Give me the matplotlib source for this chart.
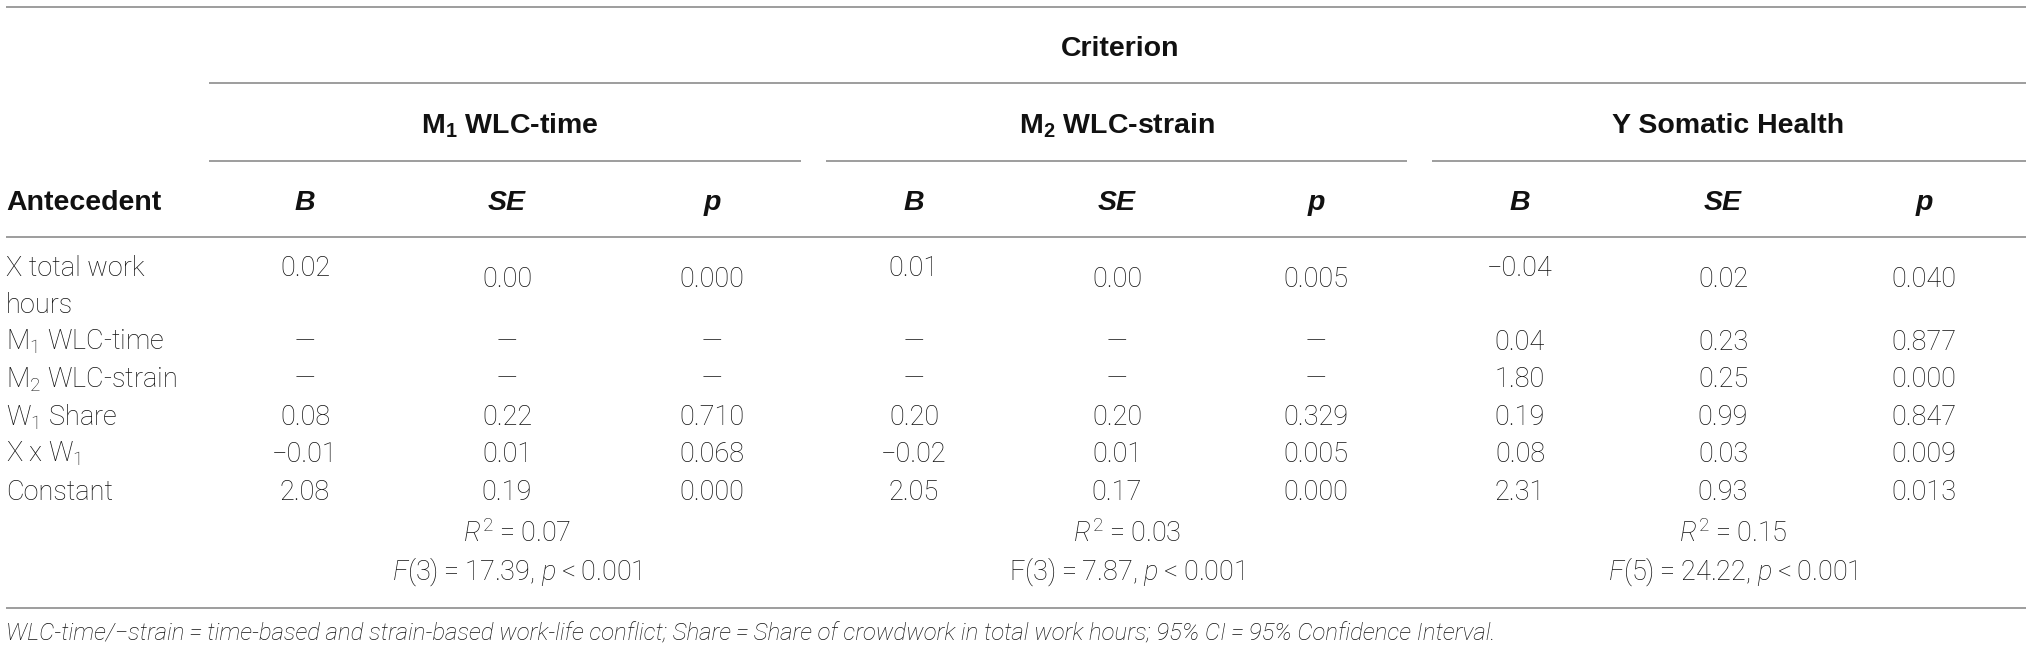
import matplotlib
matplotlib.use("Agg")
import matplotlib.pyplot as plt

plt.rcParams['font.family'] = ['Roboto', 'DejaVu Sans']
plt.rcParams['mathtext.fontset'] = 'custom'
plt.rcParams['mathtext.rm'] = 'Roboto:light'
plt.rcParams['mathtext.it'] = 'Roboto:italic:light'
plt.rcParams['mathtext.bf'] = 'Liberation Sans:bold'

# ---- data ----
criterion_label = "Criterion"
groups = [r"M$_\mathbf{1}$ WLC-time", r"M$_\mathbf{2}$ WLC-strain", "Y Somatic Health"]
stat_labels = ["B", "SE", "p"]
row_labels = [["X total work", "hours"], [r"M$_1$ WLC-time"], [r"M$_2$ WLC-strain"],
              [r"W$_1$ Share"], [r"X x W$_1$"], ["Constant"]]

m1_B = [0.02, None, None, 0.08, -0.01, 2.08]
m1_SE = [0.00, None, None, 0.22, 0.01, 0.19]
m1_p = [0.000, None, None, 0.710, 0.068, 0.000]

m2_B = [0.01, None, None, 0.20, -0.02, 2.05]
m2_SE = [0.00, None, None, 0.20, 0.01, 0.17]
m2_p = [0.005, None, None, 0.329, 0.005, 0.000]

y_B = [-0.04, 0.04, 1.80, 0.19, 0.08, 2.31]
y_SE = [0.02, 0.23, 0.25, 0.99, 0.03, 0.93]
y_p = [0.040, 0.877, 0.000, 0.847, 0.009, 0.013]

r2_values = [0.07, 0.03, 0.15]
f_df = [3, 3, 5]
f_values = [17.39, 7.87, 24.22]
f_italic = [True, False, True]

footnote = ("WLC-time/\u2212strain\u2009=\u2009time-based and strain-based work-life conflict; "
            "Share\u2009=\u2009Share of crowdwork in total work hours; 95% CI\u2009=\u200995% Confidence Interval.")

# ---- layout ----
W, H = 2032, 658
fig = plt.figure(figsize=(W / 100, H / 100), dpi=100)
ax = fig.add_axes([0, 0, 1, 1])
ax.set_xlim(0, W)
ax.set_ylim(H, 0)
ax.axis('off')

line_color = '#8c8c8c'
lw = 1.2
fs = 19.5
hfs = 20.5
txt_color = '#111111'
bold_family = ['Liberation Sans', 'DejaVu Sans']

def hline(y, x0, x1):
    ax.plot([x0, x1], [y, y], color=line_color, lw=lw, solid_capstyle='butt')

L, R = 6, 2026
hline(7, L, R)
hline(83, 209, R)
group_spans = [(209, 801), (826, 1407), (1432, R)]
for x0, x1 in group_spans:
    hline(161, x0, x1)
hline(237, L, R)
hline(608, L, R)

# headers
ax.text(1120, 56, criterion_label, ha='center', va='baseline', fontsize=hfs,
        fontweight='bold', family=bold_family, color=txt_color)
group_centers = [510, 1117, 1728]
for g, cx in zip(groups, group_centers):
    ax.text(cx, 133, g, ha='center', va='baseline', fontsize=hfs, fontweight='bold',
            family=bold_family, color=txt_color)

col_x = [[305, 507, 712], [914, 1117, 1316], [1520, 1723, 1924]]
ax.text(L, 210, "Antecedent", ha='left', va='baseline', fontsize=hfs, fontweight='bold',
        family=bold_family, color=txt_color)
for cols in col_x:
    for lab, cx in zip(stat_labels, cols):
        ax.text(cx, 210, lab, ha='center', va='baseline', fontsize=hfs, fontweight='bold',
                style='italic', family=bold_family, color=txt_color)

# rows (baselines)
row_base = [276, 350, 387, 425, 462, 500]
line_pitch = 37
for labs, yb in zip(row_labels, row_base):
    for k, lab in enumerate(labs):
        ax.text(L, yb + k * line_pitch, lab, ha='left', va='baseline', fontsize=fs,
                fontweight='light', color=txt_color)

def fmt(v, nd):
    if v is None:
        return "—"
    s = f"{abs(v):.{nd}f}"
    return ("\u2212" + s) if v < 0 else s

data = [(m1_B, m1_SE, m1_p), (m2_B, m2_SE, m2_p), (y_B, y_SE, y_p)]
for (Bs, SEs, ps), cols in zip(data, col_x):
    for i, yb in enumerate(row_base):
        ys = yb + 11 if i == 0 else yb
        for val, nd, cx, yy in ((Bs[i], 2, cols[0], yb), (SEs[i], 2, cols[1], ys), (ps[i], 3, cols[2], ys)):
            ax.text(cx, yy, fmt(val, nd), ha='center', va='baseline', fontsize=fs,
                    fontweight='light', color=txt_color)

stat_centers = [517, 1127, 1733]
for r2, df, fv, it, cx in zip(r2_values, f_df, f_values, f_italic, stat_centers):
    ax.text(cx, 542, r"$\mathit{R}^{2}$" + f" =\u2009{r2:.2f}", ha='center', va='baseline',
            fontsize=fs, fontweight='light', color=txt_color)
    fl = r"$\mathit{F}$" if it else "F"
    ax.text(cx, 580, fl + f"({df})\u2009=\u2009{fv:.2f}, " + r"$\mathit{p}$" + "\u2009<\u20090.001",
            ha='center', va='baseline', fontsize=fs, fontweight='light', color=txt_color)

ax.text(L, 640, footnote, ha='left', va='baseline', fontsize=17.3, style='italic',
        fontweight='light', color=txt_color)

fig.savefig("out.png", dpi=100)
